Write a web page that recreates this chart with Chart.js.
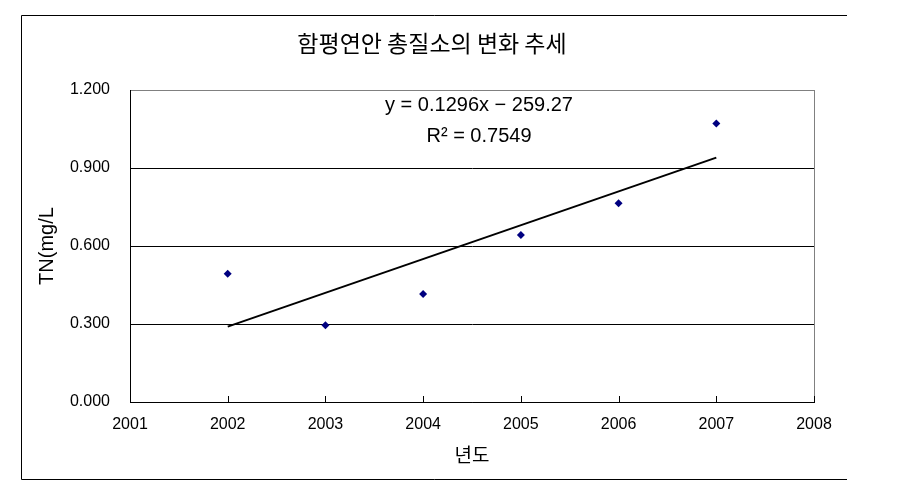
<!DOCTYPE html>
<html>
<head>
<meta charset="utf-8">
<script src="https://cdn.jsdelivr.net/npm/chart.js@4.4.1/dist/chart.umd.min.js"></script>
<style>
  html, body { margin: 0; padding: 0; background: #fff; }
  #wrap { width: 910px; height: 493px; }
</style>
</head>
<body>
<div id="wrap"><canvas id="c" width="910" height="493"></canvas></div>
<script>
// ---- data ----
const years = [2002, 2003, 2004, 2005, 2006, 2007];
const tnValues = [0.493, 0.295, 0.415, 0.642, 0.764, 1.071];
const trendYears = [2002, 2007];
const trendValues = [0.290, 0.940];
const chartTitle = '함평연안 총질소의 변화 추세';
const xTitle = '년도';
const yTitle = 'TN(mg/L';
const equationLines = ['y = 0.1296x \u2212 259.27', 'R\u00B2 = 0.7549'];
const xRange = [2001, 2008];
const yRange = [0, 1.2];
const yStep = 0.3;

const numFont = "'Liberation Sans', Arial, sans-serif";
const krFont = "'Noto Sans CJK KR', sans-serif";

const decorPlugin = {
  id: 'decor',
  beforeDraw(chart) {
    const ctx = chart.ctx;
    ctx.save();
    ctx.fillStyle = '#fff';
    ctx.fillRect(0, 0, chart.width, chart.height);
    ctx.restore();
  },
  afterDraw(chart) {
    const ctx = chart.ctx;
    const a = chart.chartArea;
    const xs = chart.scales.x;
    ctx.save();
    // outer frame (top, left, bottom)
    ctx.strokeStyle = '#000';
    ctx.lineWidth = 1;
    ctx.beginPath();
    ctx.moveTo(847, 15.5); ctx.lineTo(21.5, 15.5); ctx.lineTo(21.5, 479.5); ctx.lineTo(847, 479.5);
    ctx.stroke();
    // right border of plot (gray)
    ctx.strokeStyle = '#808080';
    ctx.beginPath();
    ctx.moveTo(Math.round(a.right) + 0.5, a.top); ctx.lineTo(Math.round(a.right) + 0.5, a.bottom);
    ctx.stroke();
    // inward x ticks
    ctx.strokeStyle = '#000';
    ctx.beginPath();
    xs.ticks.forEach(t => {
      const px = Math.round(xs.getPixelForValue(t.value)) + 0.5;
      ctx.moveTo(px, a.bottom); ctx.lineTo(px, a.bottom - 6);
    });
    ctx.stroke();
    // title
    ctx.fillStyle = '#000';
    ctx.font = "23px " + krFont;
    ctx.textAlign = 'center';
    ctx.textBaseline = 'middle';
    ctx.fillText(chartTitle, 432, 43);
    // regression annotation
    ctx.font = "20px " + numFont;
    ctx.fillText(equationLines[0], 479, 105);
    ctx.fillText(equationLines[1], 479, 136);
    ctx.restore();
  }
};

new Chart(document.getElementById('c'), {
  type: 'scatter',
  data: {
    datasets: [
      {
        label: 'TN',
        data: years.map((x, i) => ({ x, y: tnValues[i] })),
        pointStyle: 'rectRot',
        pointRadius: 4,
        pointHoverRadius: 4,
        backgroundColor: '#000080',
        borderColor: '#000080',
        borderWidth: 0,
        showLine: false
      },
      {
        label: 'trend',
        type: 'line',
        data: trendYears.map((x, i) => ({ x, y: trendValues[i] })),
        borderColor: '#000',
        borderWidth: 2,
        pointRadius: 0,
        fill: false
      }
    ]
  },
  options: {
    responsive: false,
    animation: false,
    events: [],
    layout: { padding: { left: 21, right: 96, top: 90, bottom: 13 } },
    plugins: {
      legend: { display: false },
      title: { display: false },
      tooltip: { enabled: false }
    },
    scales: {
      x: {
        type: 'linear',
        min: xRange[0],
        max: xRange[1],
        ticks: {
          stepSize: 1,
          padding: 13,
          color: '#000',
          font: { family: numFont, size: 16 },
          callback: v => String(v)
        },
        grid: { drawOnChartArea: false, drawTicks: false },
        border: { color: '#000', width: 1 },
        title: {
          display: true,
          text: xTitle,
          color: '#000',
          font: { family: krFont, size: 19 },
          padding: { top: 8, bottom: 14 }
        },
        afterFit(s) { s.height = 78; }
      },
      y: {
        min: yRange[0],
        max: yRange[1],
        ticks: {
          stepSize: yStep,
          padding: 20,
          color: '#000',
          font: { family: numFont, size: 16 },
          callback: v => Number(v).toFixed(3)
        },
        grid: {
          drawTicks: false,
          color: ctx => (ctx.tick && Math.abs(ctx.tick.value - 1.2) < 1e-6) ? '#808080' : '#000',
          lineWidth: 1
        },
        border: { color: '#000', width: 1 },
        title: {
          display: true,
          text: yTitle,
          color: '#000',
          font: { family: numFont, size: 20 },
          padding: { top: 14, bottom: 0 }
        },
        afterFit(s) { s.width = 109; }
      }
    }
  },
  plugins: [decorPlugin]
});
</script>
</body>
</html>
